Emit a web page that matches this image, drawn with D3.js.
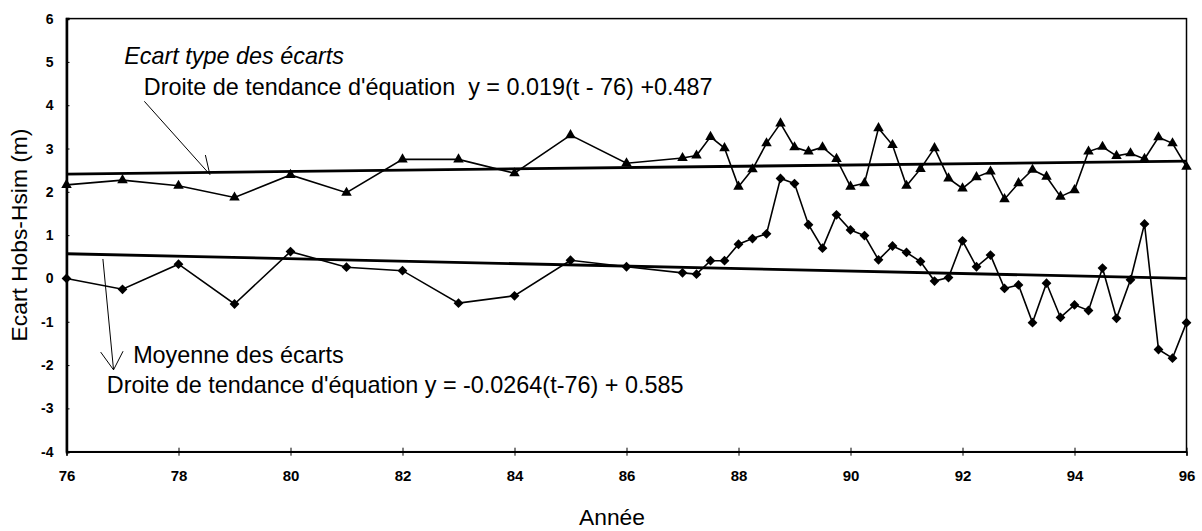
<!DOCTYPE html>
<html lang="fr">
<head>
<meta charset="utf-8">
<script src="https://cdn.jsdelivr.net/npm/d3@7"></script>
<style>
    body { margin: 0; background: #fff; }
    svg { font-family: "Liberation Sans", Arial, sans-serif; }
</style>
</head>
<body>
<svg id="graphique"></svg>
<script>
// Années (annuel jusqu'en 86, puis trimestriel)
var annees = [76, 77, 78, 79, 80, 81, 82, 83, 84, 85, 86,
    87, 87.25, 87.5, 87.75, 88, 88.25, 88.5, 88.75, 89, 89.25, 89.5, 89.75,
    90, 90.25, 90.5, 90.75, 91, 91.25, 91.5, 91.75, 92, 92.25, 92.5, 92.75,
    93, 93.25, 93.5, 93.75, 94, 94.25, 94.5, 94.75, 95, 95.25, 95.5, 95.75, 96];

// Ecart type des écarts (triangles)
var ecartType = [2.16, 2.27, 2.14, 1.87, 2.39, 1.98, 2.75, 2.75, 2.43, 3.31, 2.66,
    2.78, 2.84, 3.27, 3.01, 2.12, 2.52, 3.12, 3.58, 3.03, 2.93, 3.03, 2.76,
    2.12, 2.20, 3.47, 3.08, 2.14, 2.53, 3.01, 2.31, 2.08, 2.34, 2.47, 1.83,
    2.20, 2.51, 2.35, 1.89, 2.04, 2.93, 3.04, 2.83, 2.89, 2.76, 3.26, 3.12, 2.58];

// Moyenne des écarts (losanges)
var moyenne = [0.0, -0.25, 0.33, -0.59, 0.62, 0.26, 0.18, -0.57, -0.40, 0.42, 0.27,
    0.13, 0.10, 0.41, 0.41, 0.79, 0.92, 1.03, 2.31, 2.19, 1.24, 0.70, 1.47,
    1.12, 0.99, 0.43, 0.75, 0.60, 0.39, -0.06, 0.02, 0.87, 0.27, 0.54, -0.23,
    -0.15, -1.02, -0.11, -0.90, -0.61, -0.74, 0.24, -0.92, -0.03, 1.26, -1.64, -1.84, -1.02];

// Droites de tendance, valeurs aux extrémités
var anneesTendance = [76, 96];
var tendanceEcartType = [2.41, 2.71];
var tendanceMoyenne = [0.57, 0.0];

var ticksAnnees = [76, 78, 80, 82, 84, 86, 88, 90, 92, 94, 96];
var ticksEcart = [-4, -3, -2, -1, 0, 1, 2, 3, 4, 5, 6];

// Textes et flèches d'annotation (en unités du graphique)
var textes = [
    {t: 77.03, v: 4.95, texte: "Ecart type des écarts", italique: true},
    {t: 77.38, v: 4.24, texte: "Droite de tendance d'équation  y = 0.019(t - 76) +0.487"},
    {t: 77.19, v: -1.95, texte: "Moyenne des écarts"},
    {t: 76.72, v: -2.64, texte: "Droite de tendance d'équation y = -0.0264(t-76) + 0.585"}
];
var fleches = [
    [[77.39, 4.09], [78.56, 2.40]],
    [[78.48, 2.85], [78.56, 2.40]],
    [[76.65, 0.45], [76.84, -2.11]],
    [[76.61, -1.70], [76.84, -2.11], [77.01, -1.68]]
];

var ancho = 1202, alto = 531;
var marge = {gauche: 66.5, droite: 15.5, haut: 18.6, bas: 79.3};

var svg = d3.select("#graphique")
    .attr("width", ancho)
    .attr("height", alto);

var x = d3.scaleLinear().domain([76, 96]).range([marge.gauche, ancho - marge.droite]);
var y = d3.scaleLinear().domain([-4, 6]).range([alto - marge.bas, marge.haut]);

// Cadre
svg.append("rect")
    .attr("x", x(76)).attr("y", y(6))
    .attr("width", x(96) - x(76)).attr("height", y(-4) - y(6))
    .attr("fill", "none").attr("stroke", "#000").attr("stroke-width", 1.5);

// Axe Y (trait d'union comme sur l'original)
var axeY = svg.append("g")
    .attr("transform", "translate(" + x(76) + ",0)")
    .call(d3.axisRight(y).tickValues(ticksEcart).tickSize(3).tickFormat(d => String(d)));
axeY.select(".domain").attr("stroke-width", 2.5);
axeY.selectAll("text")
    .attr("x", -13)
    .attr("text-anchor", "end")
    .style("font-size", "14px")
    .style("font-weight", "bold")
    .attr("fill", "#000");

// Axe X
var axeX = svg.append("g")
    .attr("transform", "translate(0," + y(-4) + ")")
    .call(d3.axisBottom(x).tickValues(ticksAnnees).tickSize(4).tickFormat(d => String(d)));
axeX.select(".domain").attr("stroke-width", 1.5);
axeX.selectAll(".tick line").attr("y1", -4).attr("y2", 4);
axeX.selectAll("text")
    .attr("y", 19)
    .style("font-size", "15px")
    .style("font-weight", "bold")
    .attr("fill", "#000");

// Titres des axes
svg.append("text")
    .attr("transform", "translate(27," + 235 + ") rotate(-90)")
    .attr("text-anchor", "middle")
    .style("font-size", "22.8px")
    .text("Ecart Hobs-Hsim (m)");
svg.append("text")
    .attr("x", 612)
    .attr("y", 525)
    .attr("text-anchor", "middle")
    .style("font-size", "22.8px")
    .text("Année");

// Droites de tendance
var ligne = d3.line().x(d => x(d[0])).y(d => y(d[1]));
[tendanceEcartType, tendanceMoyenne].forEach(function(serie){
    svg.append("path")
        .datum(d3.zip(anneesTendance, serie))
        .attr("d", ligne)
        .attr("fill", "none")
        .attr("stroke", "#000")
        .attr("stroke-width", 2.8);
});

// Séries
var series = [
    {valeurs: ecartType, symbole: d3.symbol().type(d3.symbolTriangle).size(48), rot: 0},
    {valeurs: moyenne, symbole: d3.symbol().type(d3.symbolSquare).size(48), rot: 45}
];
series.forEach(function(s){
    var points = d3.zip(annees, s.valeurs);
    svg.append("path")
        .datum(points)
        .attr("d", ligne)
        .attr("fill", "none")
        .attr("stroke", "#000")
        .attr("stroke-width", 1.6);
    svg.append("g")
        .selectAll("path")
        .data(points)
        .enter()
        .append("path")
        .attr("d", s.symbole)
        .attr("transform", d => "translate(" + x(d[0]) + "," + y(d[1]) + ") rotate(" + s.rot + ")")
        .attr("fill", "#000");
});

// Flèches
fleches.forEach(function(f){
    svg.append("path")
        .datum(f)
        .attr("d", ligne)
        .attr("fill", "none")
        .attr("stroke", "#000")
        .attr("stroke-width", 1);
});

// Textes
svg.selectAll(".annotation")
    .data(textes)
    .enter()
    .append("text")
    .attr("class", "annotation")
    .attr("x", d => x(d.t))
    .attr("y", d => y(d.v))
    .style("font-size", "23.4px")
    .style("font-style", d => d.italique ? "italic" : "normal")
    .style("white-space", "pre")
    .text(d => d.texte);
</script>
</body>
</html>
